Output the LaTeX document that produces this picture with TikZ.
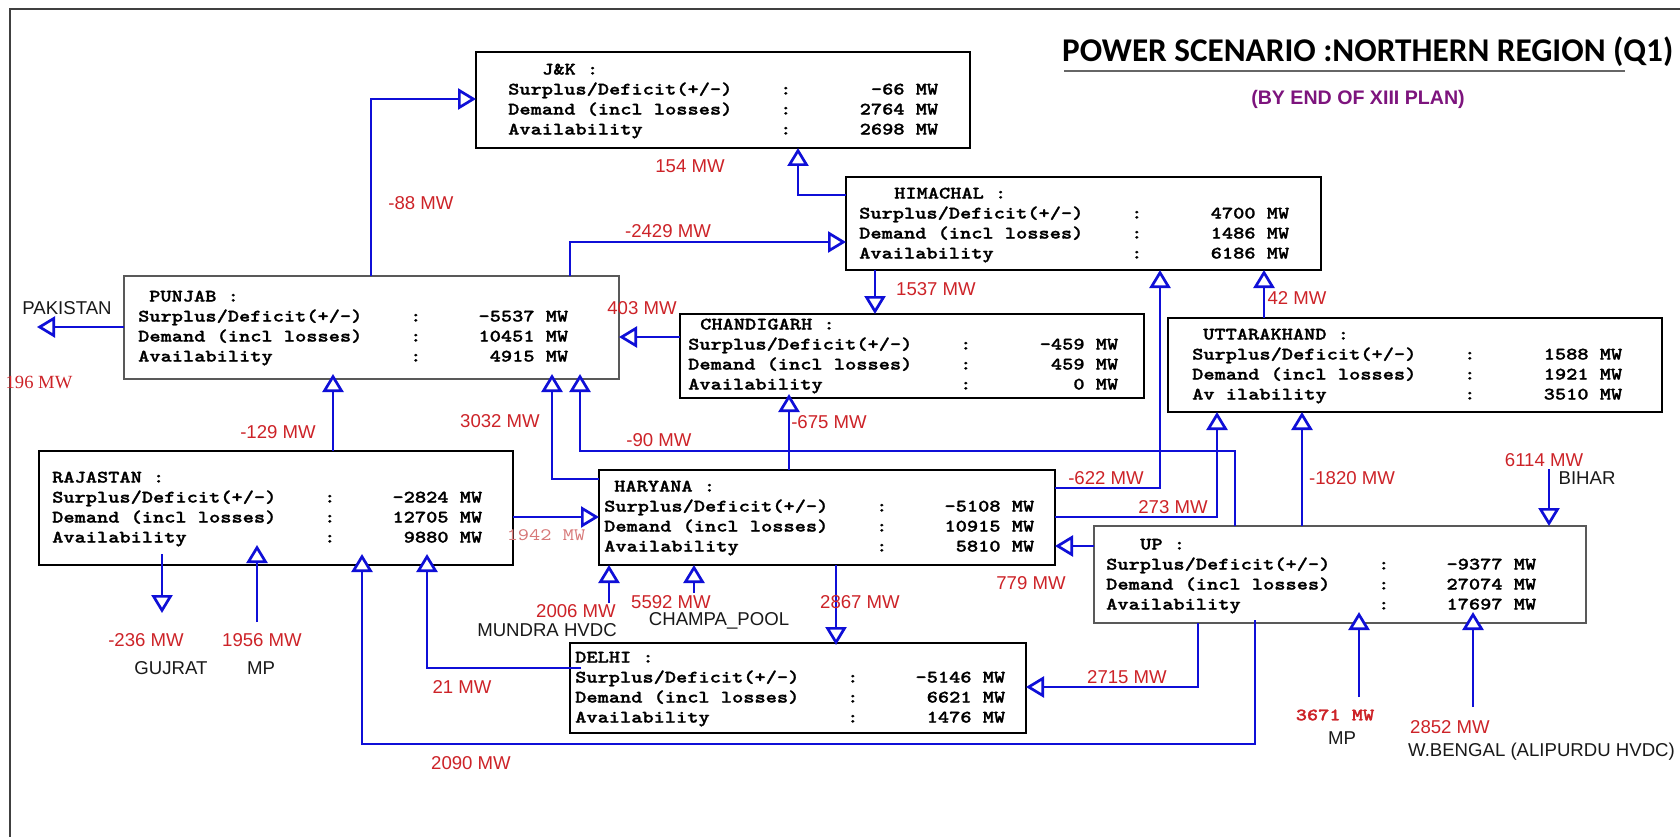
\documentclass[tikz,border=0pt]{standalone}
\usepackage{fontspec}
\usetikzlibrary{arrows.meta}
\newfontfamily\arialf{Liberation Sans}
\newfontfamily\timesf{Liberation Serif}
\newfontfamily\calibf{Carlito}
\newfontfamily\monob{lmmonolt10-bold.otf}[FakeStretch=1.22,FakeBold=1.3]
\newfontfamily\monor{lmmono10-regular.otf}[FakeStretch=1.22]
\definecolor{flow}{RGB}{15,15,215}
\definecolor{lab}{RGB}{205,35,40}
\definecolor{labl}{RGB}{215,120,120}
\definecolor{purp}{RGB}{125,20,125}
\newcommand\brow[2]{\strut\makebox[272pt][l]{#1}\makebox[158pt][l]{:\hfill #2}}
\begin{document}
\begin{tikzpicture}[x=1pt,y=-1pt,
 regbox/.style={draw=black, line width=2.2pt, rectangle, inner sep=0pt, outer sep=0pt, anchor=north west},
 greybox/.style={regbox, draw=black!65, line width=1.6pt},
 btxt/.style={anchor=north west, inner sep=0pt, align=left, font=\fontsize{17.5}{20}\monob},
 flowline/.style={draw=flow, line width=2.7pt, -{Triangle[length=18pt,width=21pt,fill=white]}},
 mwlab/.style={inner sep=0pt, text=lab, font=\fontsize{18.6}{20}\arialf},
 place/.style={inner sep=0pt, text=black!90, font=\fontsize{18.6}{20}\arialf}]
\useasboundingbox (0,0) rectangle (1680,837);
\clip (0,0) rectangle (1680,837);
\fill[white] (0,0) rectangle (1680,837);
\draw[line width=1.8pt, black!75] (10,850) -- (10,9) -- (1690,9);

% title
\node[anchor=base west, inner sep=0pt, font=\fontsize{33.2}{40}\calibf\bfseries] (title) at (1062,62) {POWER SCENARIO :NORTHERN REGION (Q1)};
\draw[line width=2pt, black!60] (1064,71) -- (1625,71);
\node[inner sep=0pt, text=purp, font=\fontsize{19.6}{20}\arialf\bfseries] (sub) at (1358,99) {(BY END OF XIII PLAN)};

% boxes
\node[regbox, minimum width=494pt, minimum height=96pt] (jk) at (476,52) {};
\node[greybox, minimum width=495pt, minimum height=103pt] (pj) at (124,276) {};
\node[regbox, minimum width=464pt, minimum height=84pt] (ch) at (680,314) {};
\node[regbox, minimum width=475pt, minimum height=93pt] (hp) at (846,177) {};
\node[regbox, minimum width=494pt, minimum height=94pt] (uk) at (1168,318) {};
\node[regbox, minimum width=474pt, minimum height=114pt] (rj) at (39,451) {};
\node[regbox, minimum width=456pt, minimum height=95pt] (hr) at (599,470) {};
\node[regbox, minimum width=456pt, minimum height=90pt] (dl) at (570,643) {};
\node[greybox, minimum width=492pt, minimum height=97pt] (up) at (1094,526) {};

% box texts
\node[btxt] (jkt) at (508,60.35) {\strut\hspace*{34pt}J\&K :\\ \brow{Surplus/Deficit(+/-)}{-66 MW}\\ \brow{Demand (incl losses)}{2764 MW}\\ \brow{Availability}{2698 MW}};
\node[btxt] (pjt) at (138,287.35) {\strut\hspace*{11pt}PUNJAB :\\ \brow{Surplus/Deficit(+/-)}{-5537 MW}\\ \brow{Demand (incl losses)}{10451 MW}\\ \brow{Availability}{4915 MW}};
\node[btxt] (cht) at (688,315.35) {\strut\hspace*{12pt}CHANDIGARH :\\ \brow{Surplus/Deficit(+/-)}{-459 MW}\\ \brow{Demand (incl losses)}{459 MW}\\ \brow{Availability}{0 MW}};
\node[btxt] (hpt) at (859,184.35) {\strut\hspace*{35pt}HIMACHAL :\\ \brow{Surplus/Deficit(+/-)}{4700 MW}\\ \brow{Demand (incl losses)}{1486 MW}\\ \brow{Availability}{6186 MW}};
\node[btxt] (ukt) at (1192,325.35) {\strut\hspace*{11pt}UTTARAKHAND :\\ \brow{Surplus/Deficit(+/-)}{1588 MW}\\ \brow{Demand (incl losses)}{1921 MW}\\ \brow{Av ilability}{3510 MW}};
\node[btxt] (rjt) at (52,468.35) {\strut RAJASTAN :\\ \brow{Surplus/Deficit(+/-)}{-2824 MW}\\ \brow{Demand (incl losses)}{12705 MW}\\ \brow{Availability}{9880 MW}};
\node[btxt] (hrt) at (604,477.35) {\strut\hspace*{10pt}HARYANA :\\ \brow{Surplus/Deficit(+/-)}{-5108 MW}\\ \brow{Demand (incl losses)}{10915 MW}\\ \brow{Availability}{5810 MW}};
\node[btxt] (dlt) at (575,648.35) {\strut DELHI :\\ \brow{Surplus/Deficit(+/-)}{-5146 MW}\\ \brow{Demand (incl losses)}{6621 MW}\\ \brow{Availability}{1476 MW}};
\node[btxt] (upt) at (1106,535.35) {\strut\hspace*{34pt}UP :\\ \brow{Surplus/Deficit(+/-)}{-9377 MW}\\ \brow{Demand (incl losses)}{27074 MW}\\ \brow{Availability}{17697 MW}};

% free ends
\coordinate (pak) at (37,327);
\coordinate (guj) at (162,613);
\coordinate (mpr) at (257,622);
\coordinate (mun) at (609,603);
\coordinate (cha) at (694,593);
\coordinate (bih) at (1549,469);
\coordinate (mpu) at (1359,697);
\coordinate (wbg) at (1473,707);

% connectors
\draw[flowline] ([xshift=247pt]pj.north west) |- ([yshift=-47pt]jk.north west);
\draw[flowline] ([yshift=-18pt]hp.north west) -| ([xshift=322pt]jk.south west);
\draw[flowline] ([xshift=446pt]pj.north west) |- ([yshift=-65pt]hp.north west);
\draw[flowline] ([yshift=-23pt]ch.north west) -- ([yshift=-61pt]pj.north east);
\draw[flowline] ([yshift=-51pt]pj.north west) -- (pak);
\draw[flowline] ([xshift=29pt]hp.south west) -- ([xshift=195pt]ch.north west);
\draw[flowline] ([xshift=96pt]uk.north west) -- ([xshift=418pt]hp.south west);
\draw[flowline] ([yshift=-18pt]hr.north east) -| ([xshift=314pt]hp.south west);
\draw[flowline] ([yshift=-47pt]hr.north east) -| ([xshift=49pt]uk.south west);
\draw[flowline] ([xshift=208pt]up.north west) -- ([xshift=134pt]uk.south west);
\draw[flowline] ([xshift=141pt]up.north west) -- ++(0,-75) -| ([xshift=456pt,yshift=5pt]pj.south west);
\draw[flowline] ([yshift=-9pt]hr.north west) -| ([xshift=428pt,yshift=5pt]pj.south west);
\draw[flowline] ([xshift=294pt]rj.north west) -- ([xshift=209pt,yshift=5pt]pj.south west);
\draw[flowline] ([xshift=190pt]hr.north west) -- ([xshift=109pt,yshift=4pt]ch.south west);
\draw[flowline] ([yshift=-66pt]rj.north east) -- ([yshift=-47pt]hr.north west);
\draw[flowline] ([xshift=123pt,yshift=11pt]rj.south west) -- (guj);
\draw[flowline] (mpr) -- ([xshift=218pt,yshift=20pt]rj.south west);
\draw[flowline] ([xshift=161pt,yshift=3pt]up.south west) -- ++(0,124) -| ([xshift=323pt,yshift=11pt]rj.south west);
\draw[flowline] ([xshift=11pt,yshift=-25pt]dl.north west) -| ([xshift=388pt,yshift=11pt]rj.south west);
\draw[flowline] (mun) -- ([xshift=10pt]hr.south west);
\draw[flowline] (cha) -- ([xshift=95pt]hr.south west);
\draw[flowline] ([xshift=237pt]hr.south west) -- ([xshift=266pt,yshift=-2pt]dl.north west);
\draw[flowline] ([xshift=104pt]up.south west) |- ([yshift=-44pt]dl.north east);
\draw[flowline] ([yshift=-20pt]up.north west) -- ([yshift=-76pt]hr.north east);
\draw[flowline] (bih) -- ([xshift=455pt]up.north west);
\draw[flowline] (mpu) -- ([xshift=265pt,yshift=11pt]up.south west);
\draw[flowline] (wbg) -- ([xshift=379pt,yshift=11pt]up.south west);

% labels
\node[mwlab] (l88) at (421,203) {-88 MW};
\node[mwlab] (l154) at (690,166) {154 MW};
\node[mwlab] (l2429) at (668,231) {-2429 MW};
\node[mwlab] (l403) at (642,308) {403 MW};
\node[place] (pakn) at (67,308) {PAKISTAN};
\node[mwlab, font=\fontsize{18.6}{20}\timesf] (l196) at (39,382) {196 MW};
\node[mwlab] (l1537) at (936,289) {1537 MW};
\node[mwlab] (l42) at (1297,298) {42 MW};
\node[mwlab] (l622) at (1106,478) {-622 MW};
\node[mwlab] (l273) at (1173,507) {273 MW};
\node[mwlab] (l1820) at (1352,478) {-1820 MW};
\node[mwlab] (l90) at (659,440) {-90 MW};
\node[mwlab] (l3032) at (500,421) {3032 MW};
\node[mwlab] (l129) at (278,432) {-129 MW};
\node[mwlab] (l675) at (829,422) {-675 MW};
\node[mwlab, text=labl, font=\fontsize{17.5}{20}\monor] (l1942) at (546,535) {1942 MW};
\node[mwlab] (l236) at (146,640) {-236 MW};
\node[place] (gujn) at (171,668) {GUJRAT};
\node[mwlab] (l1956) at (262,640) {1956 MW};
\node[place] (mpn1) at (261,668) {MP};
\node[mwlab] (l2090) at (471,763) {2090 MW};
\node[mwlab] (l21) at (462,687) {21 MW};
\node[mwlab] (l2006) at (576,611) {2006 MW};
\node[place] (mundn) at (547,630) {MUNDRA HVDC};
\node[mwlab] (l5592) at (671,602) {5592 MW};
\node[place] (champn) at (719,621) {CHAMPA\_POOL};
\node[mwlab] (l2867) at (860,602) {2867 MW};
\node[mwlab] (l2715) at (1127,677) {2715 MW};
\node[mwlab] (l779) at (1031,583) {779 MW};
\node[mwlab] (l6114) at (1544,460) {6114 MW};
\node[place] (biharn) at (1587,478) {BIHAR};
\node[mwlab, font=\fontsize{17.5}{20}\monob] (l3671) at (1335,715) {3671 MW};
\node[place] (mpn2) at (1342,738) {MP};
\node[mwlab] (l2852) at (1450,727) {2852 MW};
\node[place, anchor=west] (wbn) at (1408,752) {W.BENGAL (ALIPURDU HVDC)};
\end{tikzpicture}
\end{document}
